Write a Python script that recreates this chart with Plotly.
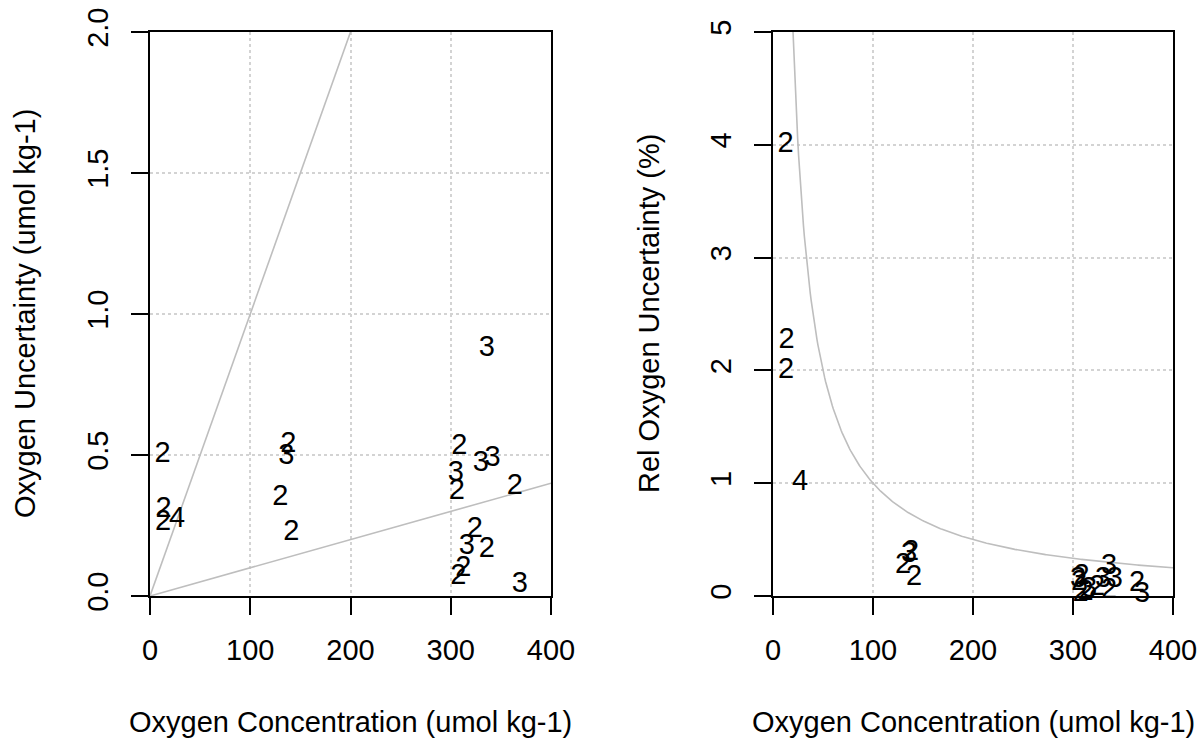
import numpy as np
import plotly.graph_objects as go

# ---- data ----
o2_conc = [12.5, 13.5, 13, 27,
           138, 136, 130, 141,
           336, 308.6, 330, 341.8, 305, 306, 364, 324, 316, 336, 312.5, 307.5, 369]
o2_unc = [0.50, 0.305, 0.26, 0.27,
          0.535, 0.494, 0.348, 0.223,
          0.878, 0.529, 0.470, 0.485, 0.435, 0.370, 0.388, 0.234, 0.175, 0.163, 0.098, 0.068, 0.039]
n_label = ["2", "2", "2", "4",
           "2", "3", "2", "2",
           "3", "2", "3", "3", "3", "2", "2", "2", "3", "2", "2", "2", "3"]
rel_unc = [100 * u / c for u, c in zip(o2_unc, o2_conc)]

x_ticks = [0, 100, 200, 300, 400]
y1_ticks = [0.0, 0.5, 1.0, 1.5, 2.0]
y1_ticktext = ["0.0", "0.5", "1.0", "1.5", "2.0"]
y2_ticks = [0, 1, 2, 3, 4, 5]

# reference lines: 1% and 0.1% relative lines, and 1 umol/kg absolute curve
ref_x = [0, 400]
curve_x = np.linspace(15, 400, 400)
curve_y = 100.0 / curve_x

FONT = "Liberation Sans, Arial, Helvetica, sans-serif"
FS = 29
W, H = 1204, 738

fig = go.Figure()
fig.add_trace(go.Scatter(x=ref_x, y=[c / 100 for c in ref_x], mode="lines",
                         line=dict(color="#BEBEBE", width=1.6), xaxis="x", yaxis="y",
                         showlegend=False, hoverinfo="skip"))
fig.add_trace(go.Scatter(x=ref_x, y=[c / 1000 for c in ref_x], mode="lines",
                         line=dict(color="#BEBEBE", width=1.6), xaxis="x", yaxis="y",
                         showlegend=False, hoverinfo="skip"))
fig.add_trace(go.Scatter(x=o2_conc, y=o2_unc, mode="text", text=n_label,
                         textfont=dict(family=FONT, size=FS, color="black"),
                         textposition="middle center", cliponaxis=False,
                         xaxis="x", yaxis="y", showlegend=False))
fig.add_trace(go.Scatter(x=curve_x, y=curve_y, mode="lines",
                         line=dict(color="#BEBEBE", width=1.6), xaxis="x2", yaxis="y2",
                         showlegend=False, hoverinfo="skip"))
fig.add_trace(go.Scatter(x=o2_conc, y=rel_unc, mode="text", text=n_label,
                         textfont=dict(family=FONT, size=FS, color="black"),
                         textposition="middle center", cliponaxis=False,
                         xaxis="x2", yaxis="y2", showlegend=False))

ydom = [(H - 596) / H, (H - 32) / H]
common = dict(showline=True, linecolor="black", linewidth=1.6, mirror=True,
              ticks="outside", ticklen=17, tickwidth=1.6, tickcolor="black",
              showgrid=True, gridcolor="#D3D3D3", griddash="dot", gridwidth=1.6,
              zeroline=False, automargin=False,
              tickfont=dict(family=FONT, size=FS, color="black"))

fig.update_layout(
    width=W, height=H, margin=dict(l=0, r=0, t=0, b=0),
    paper_bgcolor="white", plot_bgcolor="white",
    font=dict(family=FONT, size=FS, color="black"),
    xaxis=dict(domain=[150 / W, 551 / W], range=[0, 400], tickvals=x_ticks,
               ticklabelstandoff=10, anchor="y", **common),
    yaxis=dict(domain=ydom, range=[0, 2], tickvals=y1_ticks, ticktext=y1_ticktext,
               tickangle=-90, ticklabelstandoff=12, anchor="x", **common),
    xaxis2=dict(domain=[773 / W, 1173 / W], range=[0, 400], tickvals=x_ticks,
                ticklabelstandoff=10, anchor="y2", **common),
    yaxis2=dict(domain=ydom, range=[0, 5], tickvals=y2_ticks,
                tickangle=-90, ticklabelstandoff=12, anchor="x2", **common),
    annotations=[
        dict(text="Oxygen Concentration (umol kg-1)", x=350 / W, y=(H - 722) / H,
             xref="paper", yref="paper", showarrow=False, xanchor="center", yanchor="middle",
             font=dict(family=FONT, size=FS)),
        dict(text="Oxygen Concentration (umol kg-1)", x=973 / W, y=(H - 722) / H,
             xref="paper", yref="paper", showarrow=False, xanchor="center", yanchor="middle",
             font=dict(family=FONT, size=FS)),
        dict(text="Oxygen Uncertainty (umol kg-1)", x=25 / W, y=(H - 314) / H,
             xref="paper", yref="paper", showarrow=False, textangle=-90,
             xanchor="center", yanchor="middle", font=dict(family=FONT, size=FS)),
        dict(text="Rel Oxygen Uncertainty (%)", x=649 / W, y=(H - 314) / H,
             xref="paper", yref="paper", showarrow=False, textangle=-90,
             xanchor="center", yanchor="middle", font=dict(family=FONT, size=FS)),
    ],
)

fig.write_html("out.html")
